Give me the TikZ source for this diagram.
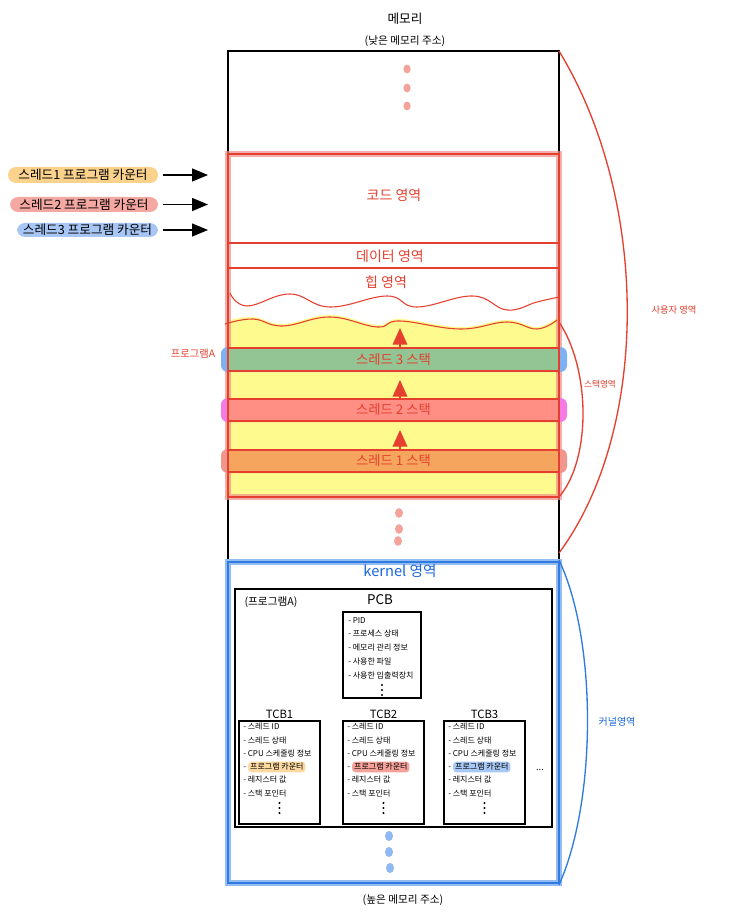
\documentclass[tikz,border=0pt]{standalone}
\usepackage{fontspec}
\setmainfont{Noto Sans CJK KR}
\usetikzlibrary{arrows.meta}
\definecolor{rl}{HTML}{E5402F}
\definecolor{rpink}{HTML}{F08E88}
\definecolor{yel}{HTML}{FFFA8E}
\definecolor{grn}{HTML}{93C493}
\definecolor{rband}{HTML}{FF8F85}
\definecolor{oband}{HTML}{F6A55E}
\definecolor{ext3}{HTML}{7FB0F0}
\definecolor{ext2}{HTML}{F47AE4}
\definecolor{ext1}{HTML}{F0968C}
\definecolor{kbl}{HTML}{93BCF2}
\definecolor{kdk}{HTML}{2F7BE0}
\definecolor{btxt}{HTML}{1A66DD}
\definecolor{dotr}{HTML}{F4A39B}
\definecolor{dotb}{HTML}{90B9F2}
\definecolor{pc1}{HTML}{FBD28C}
\definecolor{pc2}{HTML}{F5A8A2}
\definecolor{pc3}{HTML}{A7C6F5}
\definecolor{hlor}{HTML}{FCD9A0}
\definecolor{hlpk}{HTML}{F6A29A}
\definecolor{hlbl}{HTML}{A8C8F5}
\tikzset{
  every node/.style={inner sep=0pt},
  rlab/.style={text=rl, font=\fontsize{10.5}{12}\selectfont},
  band/.style={draw=rl, line width=0.9pt, minimum width=248.25pt, text=rl, font=\fontsize{10}{12}\selectfont},
  uparrow/.style={draw=rl, line width=1pt, -{Triangle[width=11pt,length=12.5pt]}},
  pill/.style={rounded corners=6pt, font=\fontsize{9.5}{11}\selectfont},
  pcarrow/.style={draw=black, line width=1pt, shorten <=3.75pt, -{Triangle[width=9.75pt,length=12pt]}},
  item/.style={anchor=west, font=\fontsize{6}{7}\selectfont, text height=4.6pt, text depth=1.3pt},
  tbox/.style={draw=black, line width=0.9pt},
  tcbtitle/.style={font=\fontsize{8.5}{10}\selectfont},
}
\begin{document}
\begin{tikzpicture}[x=0.75pt,y=-0.75pt]
\useasboundingbox (0,0) rectangle (728,923);
\fill[white] (0,0) rectangle (728,923);

% titles
\node[font=\fontsize{9.5}{11}\selectfont] (mem) at (405,19) {메모리};
\node[font=\fontsize{8}{10}\selectfont] (low) at (405,41) {(낮은 메모리 주소)};
\node[font=\fontsize{8}{10}\selectfont] (high) at (403,900) {(높은 메모리 주소)};

% memory outline
\draw[line width=0.9pt] (228,51) rectangle (559,885);

% top dots
\foreach \y in {69,88,106} \fill[dotr] (407,\y) ellipse [x radius=2.7pt, y radius=3.3pt];

% yellow stack region
\fill[yel] plot[smooth, tension=0.7] coordinates {(226,321) (253,317) (283,324) (330,315) (377,325) (400,319) (460,327) (507,320) (537,327) (558,317)} -- (558,497) -- (226,497) -- cycle;

% translucent red border of program A
\draw[rpink, line width=5pt, opacity=0.7] (228,154) rectangle (559,497);

% band extensions
\fill[ext3, rounded corners=5pt] (221,347) rectangle (567,372);
\fill[ext2, rounded corners=5pt] (221,398) rectangle (567,422);
\fill[ext1, rounded corners=5pt] (221,449) rectangle (567,473);

% stack bands
\node[band, fill=grn, minimum height=17.25pt] (s3) at (393.5,359.5) {스레드 3 스택};
\node[band, fill=rband, minimum height=16.5pt] (s2) at (393.5,410) {스레드 2 스택};
\node[band, fill=oband, minimum height=16.5pt] (s1) at (393.5,461) {스레드 1 스택};

% program A thin outline and region lines
\draw[rl, line width=1pt] (228,154) rectangle (559,497);
\draw[rl, line width=0.8pt] (228,243) -- (559,243);
\draw[rl, line width=0.8pt] (228,268) -- (559,268);
\draw[rl, line width=0.8pt] plot[smooth, tension=0.7] coordinates {(230,293) (247,306) (290,294) (330,307) (387,296) (417,307) (473,296) (507,310) (537,302) (559,297)};
\draw[rl, line width=0.8pt] plot[smooth, tension=0.7] coordinates {(225,324) (253,319) (283,326) (330,317) (377,327) (400,321) (460,329) (507,322) (537,329) (557,320)};

% region labels
\node[rlab] (code) at (394,195) {코드 영역};
\node[rlab] (data) at (390,256) {데이터 영역};
\node[rlab] (heap) at (386,282) {힙 영역};
\node[text=rl, font=\fontsize{7.7}{9}\selectfont] (progA) at (193,354) {프로그램A};

% growth arrows
\coordinate (a1) at (400,430);
\coordinate (a2) at (400,380);
\coordinate (a3) at (400,328);
\draw[uparrow] (s1.north -| a1) -- (a1);
\draw[uparrow] (s2.north -| a2) -- (a2);
\draw[uparrow] (s3.north -| a3) -- (a3);

% program counters
\node[pill, fill=pc1, minimum width=112.5pt, minimum height=12pt] (p1) at (83,175) {스레드1 프로그램 카운터};
\node[pill, fill=pc2, minimum width=111pt, minimum height=11.25pt] (p2) at (84,204.5) {스레드2 프로그램 카운터};
\node[pill, fill=pc3, minimum width=105.75pt, minimum height=10.5pt] (p3) at (87.5,230) {스레드3 프로그램 카운터};
\coordinate (e1) at (208,175);
\coordinate (e2) at (208,204.5);
\coordinate (e3) at (208,230);
\draw[pcarrow] (p1.east) -- (p1.east -| e1);
\draw[pcarrow] (p2.east) -- (p2.east -| e2);
\draw[pcarrow] (p3.east) -- (p3.east -| e3);

% user area brace
\coordinate (ut) at (559,51);
\coordinate (ub) at (559,553);
\draw[rl, line width=1pt] (ut) .. controls (650,200) and (650,430) .. (ub);
\node[text=rl, font=\fontsize{7}{8}\selectfont] (user) at (674,310) {사용자 영역};
\coordinate (st) at (559,322);
\coordinate (sb) at (559,497);
\draw[rl, line width=1pt] (st) .. controls (591,370) and (591,460) .. (sb);
\node[text=rl, font=\fontsize{6.5}{8}\selectfont] (stk) at (600,384) {스택영역};

% middle dots
\fill[dotr] (399,513) ellipse [x radius=3pt, y radius=3.6pt];
\fill[dotr] (399,529) ellipse [x radius=3pt, y radius=3.6pt];
\fill[dotr] (398,541) ellipse [x radius=3pt, y radius=3.6pt];

% kernel area
\draw[kbl, line width=5pt] (228,562) rectangle (559,883);
\draw[kdk, line width=0.8pt] (228,562) rectangle (559,883);
\node[text=btxt, font=\fontsize{11}{13}\selectfont] (kern) at (400,571) {kernel 영역};
\coordinate (kt) at (559,560);
\coordinate (kb) at (559,885);
\draw[kdk, line width=1pt] (kt) .. controls (597,640) and (597,800) .. (kb);
\node[text=btxt, font=\fontsize{7.5}{9}\selectfont] (kl) at (617,722) {커널영역};

% program A kernel box
\draw[line width=1pt] (235,589) rectangle (552,827);
\node[font=\fontsize{8}{10}\selectfont] (pa) at (271,602) {(프로그램A)};
\node[font=\fontsize{10}{12}\selectfont] (pcbt) at (380,600) {PCB};
\draw[tbox] (343,612) rectangle (421,698);
\node[item] (pcb1) at (348,621) {- PID};
\node[item] (pcb2) at (348,634) {- 프로세스 상태};
\node[item] (pcb3) at (348,648) {- 메모리 관리 정보};
\node[item] (pcb4) at (348,662) {- 사용한 파일};
\node[item] (pcb5) at (348,676) {- 사용한 입출력장치};
\foreach \dy in {-5,0,5} \fill (382,{690+\dy}) circle [radius=0.8pt];

% TCBs
\foreach \n/\bx/\hc in {1/239/hlor, 2/343/hlpk, 3/444/hlbl} {
  \node[tcbtitle] (tcb\n t) at ({\bx+40.5},714) {TCB\n};
  \draw[tbox] (\bx,721) rectangle ({\bx+81},824);
  \node[item] (t\n a) at ({\bx+4},727) {- 스레드 ID};
  \node[item] (t\n b) at ({\bx+4},741) {- 스레드 상태};
  \node[item] (t\n c) at ({\bx+4},754) {- CPU 스케줄링 정보};
  \node[item] (t\n d) at ({\bx+4},767) {-};
  \node[item, fill=\hc, rounded corners=2.5pt, inner xsep=1.5pt, inner ysep=1pt] (t\n h) at ([xshift=1.2pt]t\n d.east) {프로그램 카운터};
  \node[item] (t\n e) at ({\bx+4},780) {- 레지스터 값};
  \node[item] (t\n f) at ({\bx+4},794) {- 스택 포인터};
  \foreach \dy in {-5,0,5} \fill ({\bx+40.5},{808+\dy}) circle [radius=0.8pt];
}
\node[font=\fontsize{7}{8}\selectfont] (more) at (540,770) {...};

% bottom dots
\fill[dotb] (389,836) ellipse [x radius=3pt, y radius=3.8pt];
\fill[dotb] (389,852) ellipse [x radius=3pt, y radius=3.8pt];
\fill[dotb] (390,868) ellipse [x radius=3pt, y radius=3.8pt];
\end{tikzpicture}
\end{document}
